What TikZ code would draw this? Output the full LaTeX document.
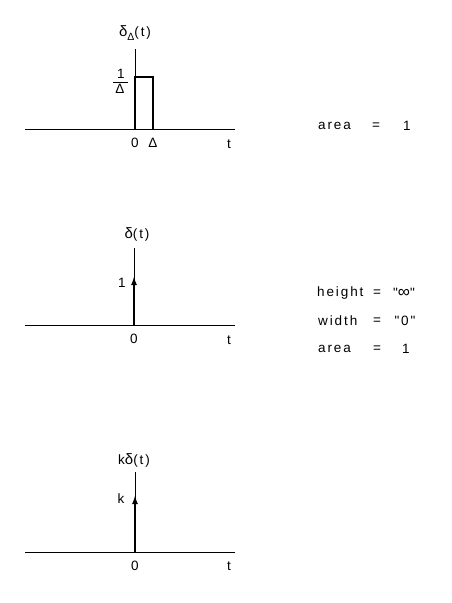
\documentclass[tikz,border=0pt]{standalone}
\usepackage{fontspec}
\usetikzlibrary{arrows.meta}
\newfontfamily\lab{Liberation Sans}[LetterSpace=14]
\begin{document}
\begin{tikzpicture}[x=1pt,y=-1pt,
  axis/.style={line width=0.8pt},
  pulse/.style={line width=1.9pt},
  impulse/.style={line width=2.3pt,-{Latex[length=9pt,width=6pt]}},
  lbl/.style={font=\lab\fontsize{13.5}{15}\selectfont, inner sep=0pt}]
\useasboundingbox (0,0) rectangle (452,603);
% ---------- panel 1
\coordinate (a1l) at (25,129);
\coordinate (a1r) at (235,129);
\coordinate (o1) at (135,129);
\coordinate (v1t) at (135,49);
\coordinate (p1a) at (135,77);
\coordinate (p1b) at (153,77);
\coordinate (p1c) at (153,129);
\draw[axis] (a1l) -- (a1r);
\draw[axis] (o1) -- (v1t);
\draw[pulse] (o1) -- (p1a) -- (p1b) -- (p1c);
\node[lbl] (y1) at (135,33) {\fontsize{15}{15}\selectfont δ\raisebox{-4pt}{\fontsize{10.5}{12}\selectfont Δ}\fontsize{13.5}{15}\selectfont(t)};
\node[lbl] (f1n) at (121,74) {1};
\coordinate (f1l) at (113,82);
\coordinate (f1r) at (128,82);
\draw[line width=0.8pt] (f1l) -- (f1r);
\node[lbl] (f1d) at (120,89) {Δ};
\node[lbl] (z1) at (135,143) {0};
\node[lbl] (d1) at (153,143) {Δ};
\node[lbl] (t1) at (229,144) {t};
\node[lbl,anchor=west] (ar1) at (318,126) {area};
\node[lbl] (eq1) at (376,126) {=};
\node[lbl] (one1) at (407,126) {1};
% ---------- panel 2
\coordinate (a2l) at (25,325);
\coordinate (a2r) at (235,325);
\coordinate (o2) at (134,325);
\coordinate (v2t) at (134,248);
\coordinate (i2) at (134,276);
\draw[axis] (a2l) -- (a2r);
\draw[axis] (o2) -- (v2t);
\draw[impulse] (o2) -- (i2);
\node[lbl] (y2) at (137,234) {\fontsize{15}{15}\selectfont δ\fontsize{13.5}{15}\selectfont(t)};
\node[lbl] (h2) at (122,283) {1};
\node[lbl] (z2) at (134,339) {0};
\node[lbl] (t2) at (229,340) {t};
\node[lbl,anchor=west] (hh) at (317,293) {height};
\node[lbl] (eqh) at (377,293) {=};
\node[lbl] (inf) at (404,293) {"\fontsize{17}{17}\selectfont ∞\fontsize{13.5}{15}\selectfont"};
\node[lbl,anchor=west] (ww) at (318,321) {width};
\node[lbl] (eqw) at (377,321) {=};
\node[lbl] (zer) at (405,321) {"0"};
\node[lbl,anchor=west] (ar2) at (318,349) {area};
\node[lbl] (eqa) at (377,349) {=};
\node[lbl] (one2) at (406,349) {1};
% ---------- panel 3
\coordinate (a3l) at (25,552);
\coordinate (a3r) at (235,552);
\coordinate (o3) at (135,552);
\coordinate (v3t) at (135,472);
\coordinate (i3) at (135,495);
\draw[axis] (a3l) -- (a3r);
\draw[axis] (o3) -- (v3t);
\draw[impulse] (o3) -- (i3);
\node[lbl] (y3) at (134,460) {k\fontsize{15}{15}\selectfont δ\fontsize{13.5}{15}\selectfont(t)};
\node[lbl] (k3) at (121,499) {k};
\node[lbl] (z3) at (135,566) {0};
\node[lbl] (t3) at (229,566) {t};
\end{tikzpicture}
\end{document}
